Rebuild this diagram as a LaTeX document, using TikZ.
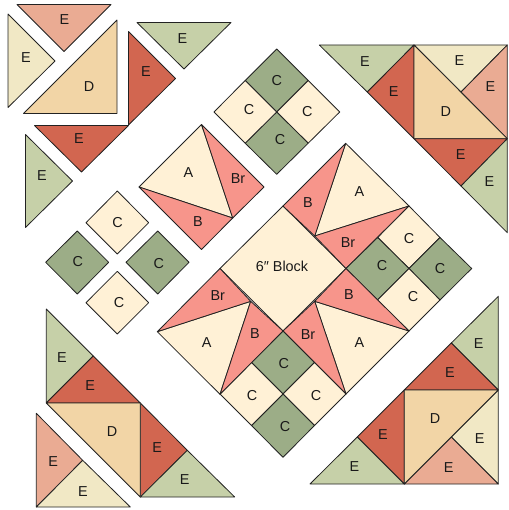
\documentclass[tikz,border=0pt]{standalone}
\usepackage{fontspec}
\setmainfont{Liberation Sans}
\definecolor{salmonE}{HTML}{EAAB93}
\definecolor{creamE}{HTML}{F1E8C5}
\definecolor{tanD}{HTML}{F2D5A6}
\definecolor{redE}{HTML}{D26650}
\definecolor{greenE}{HTML}{C6D0A8}
\definecolor{creamC}{HTML}{FFF1D6}
\definecolor{greenC}{HTML}{9CAD87}
\definecolor{pinkB}{HTML}{F7958B}
\definecolor{edgeC}{HTML}{222222}
\tikzset{
  patch/.style={draw=edgeC,line width=0.6pt,line join=round},
  fs/.style={patch,fill=salmonE},
  fc/.style={patch,fill=creamE},
  fd/.style={patch,fill=tanD},
  fr/.style={patch,fill=redE},
  fg/.style={patch,fill=greenE},
  cc/.style={patch,fill=creamC},
  cg/.style={patch,fill=greenC},
  fp/.style={patch,fill=pinkB},
  lab/.style={inner sep=0pt,font=\fontsize{10.8}{13}\selectfont,text=black!90}
}
\begin{document}
\begin{tikzpicture}[x=0.75pt,y=-0.75pt]
\useasboundingbox (0,0) rectangle (508,510);
% upper-left set
\draw[fs] (17,4.5) -- (111,4.5) -- (64,51.5) -- cycle;
\draw[fc] (8,14) -- (55,61) -- (8,107.5) -- cycle;
\draw[fd] (117,20) -- (117,113.5) -- (23.5,113.5) -- cycle;
\draw[fr] (128.5,31.5) -- (175.5,78.5) -- (128.5,125) -- cycle;
\draw[fg] (137,22.5) -- (231,22.5) -- (184,69) -- cycle;
\draw[fr] (34.5,125.5) -- (128.5,125.5) -- (81.5,172) -- cycle;
\draw[fg] (25.5,134.5) -- (72.5,181) -- (25.5,227.5) -- cycle;
\node[lab] (e1) at (64.5,20) {E};
\node[lab] (e2) at (26,58) {E};
\node[lab] (d1) at (89,87) {D};
\node[lab] (e3) at (146,72) {E};
\node[lab] (e4) at (182.5,39) {E};
\node[lab] (e5) at (79,139) {E};
\node[lab] (e6) at (42,176) {E};
% upper-right set
\draw[fg] (319.3,45) -- (414,45) -- (367.3,92) -- cycle;
\draw[fr] (414,45) -- (414,138.7) -- (367.3,92) -- cycle;
\draw[fc] (414,45) -- (507.3,45) -- (461,92) -- cycle;
\draw[fs] (507.3,45) -- (507.3,138.7) -- (461,92) -- cycle;
\draw[fd] (414,45) -- (414,138.7) -- (507.3,138.7) -- cycle;
\draw[fr] (414,138.7) -- (507.3,138.7) -- (461,186) -- cycle;
\draw[fg] (507.3,138.7) -- (461,186) -- (507.3,232.7) -- cycle;
\node[lab] (e7) at (365,61.7) {E};
\node[lab] (e8) at (393.7,91.7) {E};
\node[lab] (d2) at (445.7,111.7) {D};
\node[lab] (e9) at (459.3,60.7) {E};
\node[lab] (e10) at (490.3,86.7) {E};
\node[lab] (e11) at (460.7,154.7) {E};
\node[lab] (e12) at (489.3,181.7) {E};
% lower-left set
\draw[fg] (46.3,309) -- (46.3,403) -- (93.3,356) -- cycle;
\draw[fr] (46.3,403) -- (93.3,356) -- (140.3,403) -- cycle;
\draw[fr] (140.3,403) -- (187.3,450.3) -- (140.3,497) -- cycle;
\draw[fg] (140.3,497) -- (187.3,450.3) -- (234.7,497) -- cycle;
\draw[fd] (46.3,403) -- (140.3,403) -- (140.3,497) -- cycle;
\draw[fs] (36.3,413.3) -- (82.7,460.3) -- (36.3,507) -- cycle;
\draw[fc] (36.3,507) -- (82.7,460.3) -- (130.3,507) -- cycle;
\node[lab] (e13) at (62,357.7) {E};
\node[lab] (e14) at (90.3,385.7) {E};
\node[lab] (d3) at (112,431.7) {D};
\node[lab] (e15) at (157.3,447.7) {E};
\node[lab] (e16) at (184.7,479.7) {E};
\node[lab] (e17) at (53.3,461.7) {E};
\node[lab] (e18) at (83,491.7) {E};
% lower-right set
\draw[fg] (498.3,296.3) -- (498.3,390) -- (451.3,343) -- cycle;
\draw[fr] (404.3,390) -- (498.3,390) -- (451.3,343) -- cycle;
\draw[fc] (498.3,390) -- (498.3,484) -- (451.3,437) -- cycle;
\draw[fs] (404.3,484) -- (451.3,437) -- (498.3,484) -- cycle;
\draw[fr] (404.3,390) -- (404.3,484) -- (357.3,437) -- cycle;
\draw[fg] (310,484) -- (404.3,484) -- (357.3,437) -- cycle;
\draw[fd] (404.3,390) -- (498.3,390) -- (404.3,484) -- cycle;
\node[lab] (e19) at (478.7,343.3) {E};
\node[lab] (e20) at (450,372.7) {E};
\node[lab] (d4) at (435,418.7) {D};
\node[lab] (e21) at (479.7,438.3) {E};
\node[lab] (e22) at (448.7,467.7) {E};
\node[lab] (e23) at (383,434.7) {E};
\node[lab] (e24) at (354.3,466.7) {E};
% detached star point
\draw[cc] (201.5,124.5) -- (139,187) -- (232.7,218) -- cycle;
\draw[fp] (201.5,124.5) -- (264,187) -- (232.7,218) -- cycle;
\draw[fp] (139,187) -- (201.5,249.5) -- (232.7,218) -- cycle;
\node[lab] (a1) at (188.5,173) {A};
\node[lab] (br1) at (238,179) {Br};
\node[lab] (b1) at (198,222) {B};
% detached four-patch, top
\draw[cg] (276.7,49) -- (308.2,80.5) -- (276.7,112) -- (245.2,80.5) -- cycle;
\draw[cc] (308.2,80.5) -- (339.7,112) -- (308.2,143.2) -- (276.7,112) -- cycle;
\draw[cg] (276.7,112) -- (308.2,143.2) -- (276.7,174.3) -- (245.2,143.2) -- cycle;
\draw[cc] (245.2,80.5) -- (276.7,112) -- (245.2,143.2) -- (214,112) -- cycle;
\node[lab] (c1) at (276.7,81) {C};
\node[lab] (c2) at (307.3,111.7) {C};
\node[lab] (c3) at (280,140) {C};
\node[lab] (c4) at (249,110) {C};
% detached four-patch, left
\draw[cc] (117.3,191) -- (148.7,222.7) -- (117.3,254) -- (86,222.7) -- cycle;
\draw[cg] (77.3,231) -- (108.7,262.3) -- (77.3,294) -- (45.7,262.3) -- cycle;
\draw[cg] (157.7,231) -- (189,262.3) -- (157.7,294) -- (126,262.3) -- cycle;
\draw[cc] (117.3,271.3) -- (148.7,302.7) -- (117.3,334) -- (86,302.7) -- cycle;
\node[lab] (c5) at (117.5,223) {C};
\node[lab] (c6) at (77.7,261.7) {C};
\node[lab] (c7) at (158.7,263.7) {C};
\node[lab] (c8) at (119,302.7) {C};
% centre block
\draw[cc] (283,206) -- (346,268.5) -- (283,331) -- (220,268.5) -- cycle;
\node[lab] (blk) at (282,266.5) {6″ Block};
% star point, upper right
\draw[cc] (345.7,143.3) -- (409,206) -- (314.7,236) -- cycle;
\draw[fp] (345.7,143.3) -- (283,206) -- (314.7,236) -- cycle;
\draw[fp] (314.7,236) -- (409,206) -- (346,268.5) -- cycle;
\node[lab] (a2) at (359.5,191.5) {A};
\node[lab] (b2) at (308,203) {B};
\node[lab] (br2) at (348,243) {Br};
% four-patch, right
\draw[cc] (409,206) -- (440,237.5) -- (409,268.5) -- (377.7,237.5) -- cycle;
\draw[cg] (377.7,237.5) -- (409,268.5) -- (377.5,300) -- (346,268.5) -- cycle;
\draw[cg] (440,237.5) -- (471.7,268.5) -- (440,300) -- (409,268.5) -- cycle;
\draw[cc] (409,268.5) -- (440,300) -- (409,331) -- (377.5,300) -- cycle;
\node[lab] (c9) at (409,238.5) {C};
\node[lab] (c10) at (382,265.5) {C};
\node[lab] (c11) at (440,269) {C};
\node[lab] (c12) at (413,296.5) {C};
% star point, lower right
\draw[cc] (314.7,301.3) -- (409,331) -- (346,394) -- cycle;
\draw[fp] (346,268.5) -- (409,331) -- (314.7,301.3) -- cycle;
\draw[fp] (283,331) -- (314.7,301.3) -- (346,394) -- cycle;
\node[lab] (a3) at (359.3,342.7) {A};
\node[lab] (b3) at (349,294.7) {B};
\node[lab] (br3) at (308,334.7) {Br};
% four-patch, bottom
\draw[cg] (283,331) -- (314.5,362.5) -- (283,394) -- (251.5,362.5) -- cycle;
\draw[cc] (314.5,362.5) -- (346,394) -- (314.5,425.5) -- (283,394) -- cycle;
\draw[cg] (283,394) -- (314.5,425.5) -- (283,457.3) -- (251.5,425.5) -- cycle;
\draw[cc] (251.5,362.5) -- (283,394) -- (251.5,425.5) -- (220,394) -- cycle;
\node[lab] (c13) at (283.7,364) {C};
\node[lab] (c14) at (316,396) {C};
\node[lab] (c15) at (285,426.7) {C};
\node[lab] (c16) at (252,396) {C};
% star point, lower left
\draw[cc] (157.3,331.7) -- (250.7,301.3) -- (220,394.3) -- cycle;
\draw[fp] (220,268.5) -- (157.3,331.7) -- (250.7,301.3) -- cycle;
\draw[fp] (250.7,301.3) -- (283,331) -- (220,394.3) -- cycle;
\node[lab] (a4) at (206.7,342.7) {A};
\node[lab] (br4) at (217.7,296) {Br};
\node[lab] (b4) at (255,334) {B};
\end{tikzpicture}
\end{document}
